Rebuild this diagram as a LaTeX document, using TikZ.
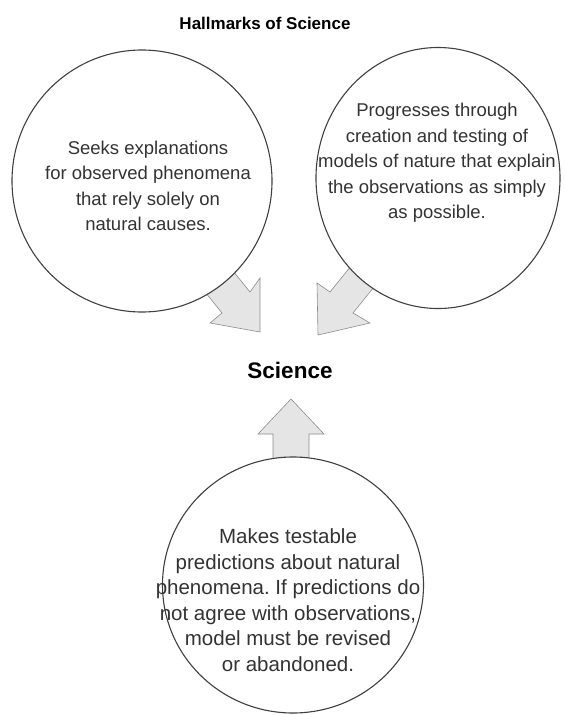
\documentclass[tikz,border=0pt]{standalone}
\usepackage{fontspec}
\setmainfont{Liberation Sans}
\usetikzlibrary{shapes.geometric}
\frenchspacing
\begin{document}
\begin{tikzpicture}[x=1pt,y=-1pt,
  bubble/.style={ellipse, draw=black!75, line width=1.1pt, fill=white, inner sep=0pt},
  blockarrow/.style={fill=black!10, draw=black!45, line width=0.6pt, line join=miter},
  bodytext/.style={align=center, text=black!80, font=\fontsize{18.5}{25.5}\selectfont, inner sep=0pt},
  titletext/.style={font=\bfseries\fontsize{17}{20}\selectfont, inner sep=0pt},
  headtext/.style={font=\bfseries\fontsize{22.5}{26}\selectfont, inner sep=0pt}]
\useasboundingbox (0,0) rectangle (565,715);

% block arrows (drawn first, circles cover the shaft ends)
\draw[blockarrow] (208,240) -- (250,292) -- (260,278) -- (260,332) -- (210,323) -- (222,313) -- (180,261) -- cycle;
\draw[blockarrow] (372,240) -- (330,292) -- (317,283) -- (318,335) -- (370,323) -- (353,313) -- (395,261) -- cycle;
\draw[blockarrow] (273,480) -- (273,434) -- (258,434) -- (291,399) -- (324,434) -- (309,434) -- (309,480) -- cycle;

% circles
\node[bubble, minimum width=260pt, minimum height=262pt] (left) at (142,181) {};
\node[bubble, minimum width=244pt, minimum height=261pt] (right) at (438,178) {};
\node[bubble, minimum width=261pt, minimum height=256pt] (bottom) at (293,585) {};

% texts
\node[titletext] (title) at (265,23) {Hallmarks of Science};
\node[headtext] (science) at (290,370) {Science};
\node[bodytext] (lefttext) at (148,186) {Seeks explanations\\for observed phenomena\\that rely solely on\\natural causes.};
\node[bodytext] (righttext) at (437,163) {Progresses through\\creation and testing of\\models of nature that explain\\the observations as simply\\as possible.};
\node[bodytext, font=\fontsize{20.5}{25.5}\selectfont] (bottomtext) at (288,600) {Makes testable\\predictions about natural\\phenomena. If predictions do\\not agree with observations,\\model must be revised\\or abandoned.};
\end{tikzpicture}
\end{document}
